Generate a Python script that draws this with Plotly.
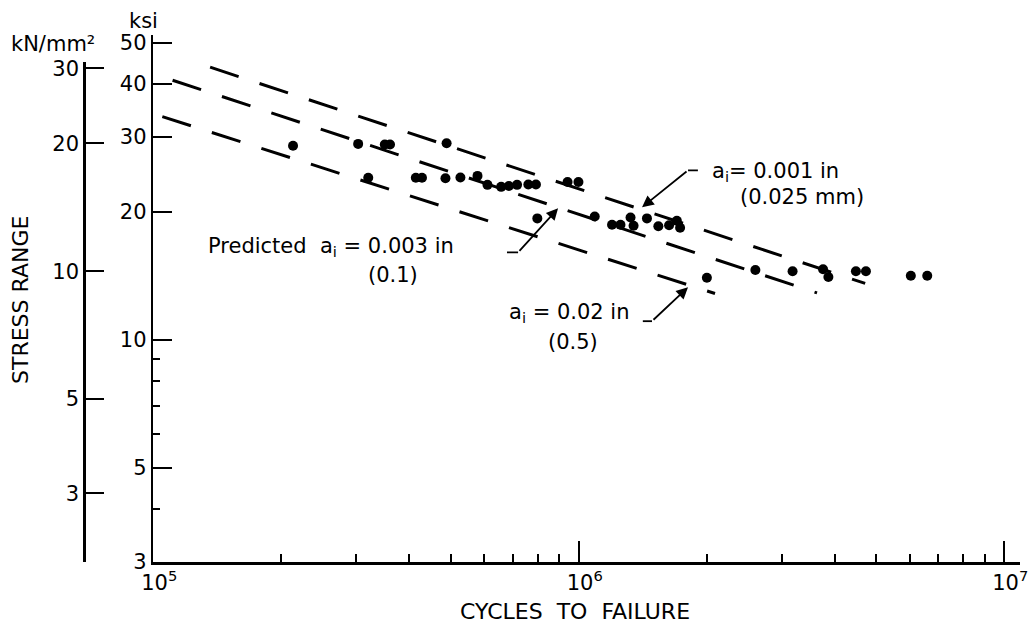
import math
import plotly.graph_objects as go

# ---------------- data ----------------
# test results: cycles to failure / stress range (ksi)
cycles = [2.13e5, 3.03e5, 3.50e5, 3.60e5, 4.89e5,
          3.20e5, 4.14e5, 4.28e5, 4.86e5, 5.27e5, 5.78e5,
          6.10e5, 6.57e5, 6.85e5, 7.16e5, 7.61e5, 7.93e5,
          9.41e5, 9.98e5, 7.99e5,
          1.09e6, 1.197e6, 1.253e6, 1.323e6, 1.345e6, 1.446e6, 1.538e6, 1.63e6, 1.70e6, 1.73e6,
          2.00e6, 2.60e6, 3.18e6, 3.75e6, 3.86e6, 4.48e6, 4.73e6, 6.03e6, 6.59e6]
stress_ksi = [28.6, 28.9, 28.8, 28.8, 29.0,
              24.05, 24.05, 24.05, 24.0, 24.1, 24.3,
              23.15, 22.9, 23.0, 23.15, 23.2, 23.2,
              23.5, 23.5, 19.3,
              19.5, 18.65, 18.65, 19.4, 18.55, 19.3, 18.5, 18.6, 19.05, 18.35,
              14.0, 14.6, 14.5, 14.65, 14.05, 14.5, 14.5, 14.15, 14.15]

# predicted lines (end points)
line001_N = [1.36e5, 4.71e6]
line001_S = [43.8, 13.57]
line003_N = [1.11e5, 3.63e6]
line003_S = [40.8, 12.89]
line02_N = [1.05e5, 2.09e6]
line02_S = [33.5, 12.85]

# leader lines of the labels: (free end, corner, arrow tip)
lead001_N = [1.905e6, 1.806e6, 1.408e6]
lead001_S = [25.04, 25.04, 20.5]
lead003_N = [6.78e5, 7.20e5, 8.94e5]
lead003_S = [16.06, 16.06, 20.39]
lead02_N = [1.414e6, 1.486e6, 1.806e6]
lead02_S = [11.06, 11.06, 13.29]

# tick labels
x_major = [1e5, 1e6, 1e7]
x_major_text = ["10<sup>5</sup>", "10<sup>6</sup>", "10<sup>7</sup>"]
x_minor = [2e5, 3e5, 4e5, 5e5, 6e5, 7e5, 8e5, 9e5,
           2e6, 3e6, 4e6, 5e6, 6e6, 7e6, 8e6, 9e6]
ksi_major = [3, 5, 10, 20, 30, 40, 50]
ksi_minor = [4, 6, 7, 8, 9]
si_major = [3, 5, 10, 20, 30]
KSI_PER_UNIT = 10 / 6.894757   # left scale unit (10 N/mm^2) expressed in ksi

# ---------------- layout geometry ----------------
W, H = 1030, 630
ML, MR, MT, MB = 0, 10, 35, 68
PW, PH = W - ML - MR, H - MT - MB
DEC_X, DEC_Y = 425.5, 425.0


def px(x):
    return (x - ML) / PW


def py(y):
    return (H - MB - y) / PH


X_START = 153.3
FONT = "DejaVu Sans"
BLACK = "black"
NB = "\u00a0"

fig = go.Figure()

dash = "30px,22px"
for n, s in [(line001_N, line001_S), (line003_N, line003_S), (line02_N, line02_S)]:
    fig.add_trace(go.Scatter(x=n, y=s, mode="lines",
                             line=dict(color=BLACK, width=3, dash=dash),
                             hoverinfo="skip", showlegend=False))

for n, s in [(lead001_N, lead001_S), (lead003_N, lead003_S), (lead02_N, lead02_S)]:
    fig.add_trace(go.Scatter(x=n[:2], y=s[:2], mode="lines",
                             line=dict(color=BLACK, width=1.8),
                             hoverinfo="skip", showlegend=False))

fig.add_trace(go.Scatter(x=cycles, y=stress_ksi, mode="markers",
                         marker=dict(color=BLACK, size=10, symbol="circle"),
                         showlegend=False))

# dummy trace for the second (SI) stress axis
fig.add_trace(go.Scatter(x=[None], y=[None], xaxis="x", yaxis="y2",
                         showlegend=False, hoverinfo="skip"))

annotations = []
for n, s in [(lead001_N, lead001_S), (lead003_N, lead003_S), (lead02_N, lead02_S)]:
    annotations.append(dict(
        x=math.log10(n[2]), y=math.log10(s[2]), xref="x", yref="y",
        ax=math.log10(n[1]), ay=math.log10(s[1]), axref="x", ayref="y",
        text="", showarrow=True, arrowhead=2, arrowsize=1.3, arrowwidth=1.8,
        arrowcolor=BLACK, standoff=0))

tf = dict(family=FONT, size=21, color=BLACK)
texts = [
    ("a<sub>i</sub>= 0.001 in", 710, 172, "left"),
    ("(0.025 mm)", 738, 197, "left"),
    ("Predicted" + NB + NB + "a<sub>i</sub> = 0.003 in", 206, 247, "left"),
    ("(0.1)", 366, 275, "left"),
    ("a<sub>i</sub> = 0.02 in", 632, 313, "right"),
    ("(0.5)", 546, 342, "left"),
]
for t, x, y, anc in texts:
    annotations.append(dict(text=t, x=px(x), y=py(y), xref="paper", yref="paper",
                            xanchor=anc, yanchor="middle", showarrow=False, font=tf))

title_font = dict(family=FONT, size=21, color=BLACK)
annotations += [
    dict(text="ksi", x=px(143), y=py(21), xref="paper", yref="paper",
         xanchor="center", yanchor="middle", showarrow=False, font=title_font),
    dict(text="kN/mm²", x=px(53), y=py(44), xref="paper", yref="paper",
         xanchor="center", yanchor="middle", showarrow=False, font=title_font),
    dict(text="STRESS" + NB + "RANGE", x=px(20), y=py(300), xref="paper", yref="paper",
         xanchor="center", yanchor="middle", textangle=-90, showarrow=False,
         font=dict(family=FONT, size=22, color=BLACK)),
    dict(text="CYCLES" + NB + NB + "TO" + NB + NB + "FAILURE", x=px(575), y=py(611),
         xref="paper", yref="paper",
         xanchor="center", yanchor="middle", showarrow=False,
         font=dict(family=FONT, size=22, color=BLACK)),
]

x_dom0 = px(X_START)
x_range = [5, 5 + (W - MR - X_START) / DEC_X]
y_lo = math.log10(3)
y_range = [y_lo, y_lo + PH / DEC_Y]
y2_top = py(61.7)
y2_lo = math.log10(3 / KSI_PER_UNIT)
y2_range = [y2_lo, y2_lo + y2_top * PH / DEC_Y]

tickfont = dict(family=FONT, size=21, color=BLACK)

fig.update_layout(
    width=W, height=H,
    margin=dict(l=ML, r=MR, t=MT, b=MB, autoexpand=False),
    paper_bgcolor="white", plot_bgcolor="rgba(0,0,0,0)",
    showlegend=False, hovermode=False,
    annotations=annotations,
    xaxis=dict(type="log", range=x_range, domain=[x_dom0, 1], anchor="y",
               automargin=False,
               showline=True, linewidth=2.5, linecolor=BLACK, mirror=False,
               showgrid=False, zeroline=False,
               ticks="inside", ticklen=21, tickwidth=2, tickcolor=BLACK,
               tickmode="array", tickvals=x_major, ticktext=x_major_text,
               tickfont=tickfont, ticklabelshift=6,
               minor=dict(tickmode="array", tickvals=x_minor, ticks="inside",
                          ticklen=8, tickwidth=2, tickcolor=BLACK, showgrid=False)),
    yaxis=dict(type="log", range=y_range, domain=[0, 1], anchor="x",
               automargin=False,
               showline=True, linewidth=2.5, linecolor=BLACK,
               showgrid=False, zeroline=False,
               ticks="inside", ticklen=19, tickwidth=2, tickcolor=BLACK,
               tickmode="array", tickvals=ksi_major,
               ticktext=[str(v) for v in ksi_major], tickfont=tickfont,
               minor=dict(tickmode="array", tickvals=ksi_minor, ticks="inside",
                          ticklen=7, tickwidth=2, tickcolor=BLACK, showgrid=False)),
    yaxis2=dict(type="log", range=y2_range, domain=[0, y2_top], anchor="free",
                position=px(84.3), side="left", automargin=False,
                showline=True, linewidth=2.5, linecolor=BLACK,
                showgrid=False, zeroline=False,
                ticks="inside", ticklen=18, tickwidth=2, tickcolor=BLACK,
                tickmode="array", tickvals=si_major + [3.003 / KSI_PER_UNIT],
                ticktext=[str(v) for v in si_major] + [""], tickfont=tickfont),
)

fig.write_html("out.html",
               config={"displayModeBar": False, "staticPlot": True},
               post_script="document.body.style.margin='0px';"
                           "document.body.style.overflow='hidden';")
